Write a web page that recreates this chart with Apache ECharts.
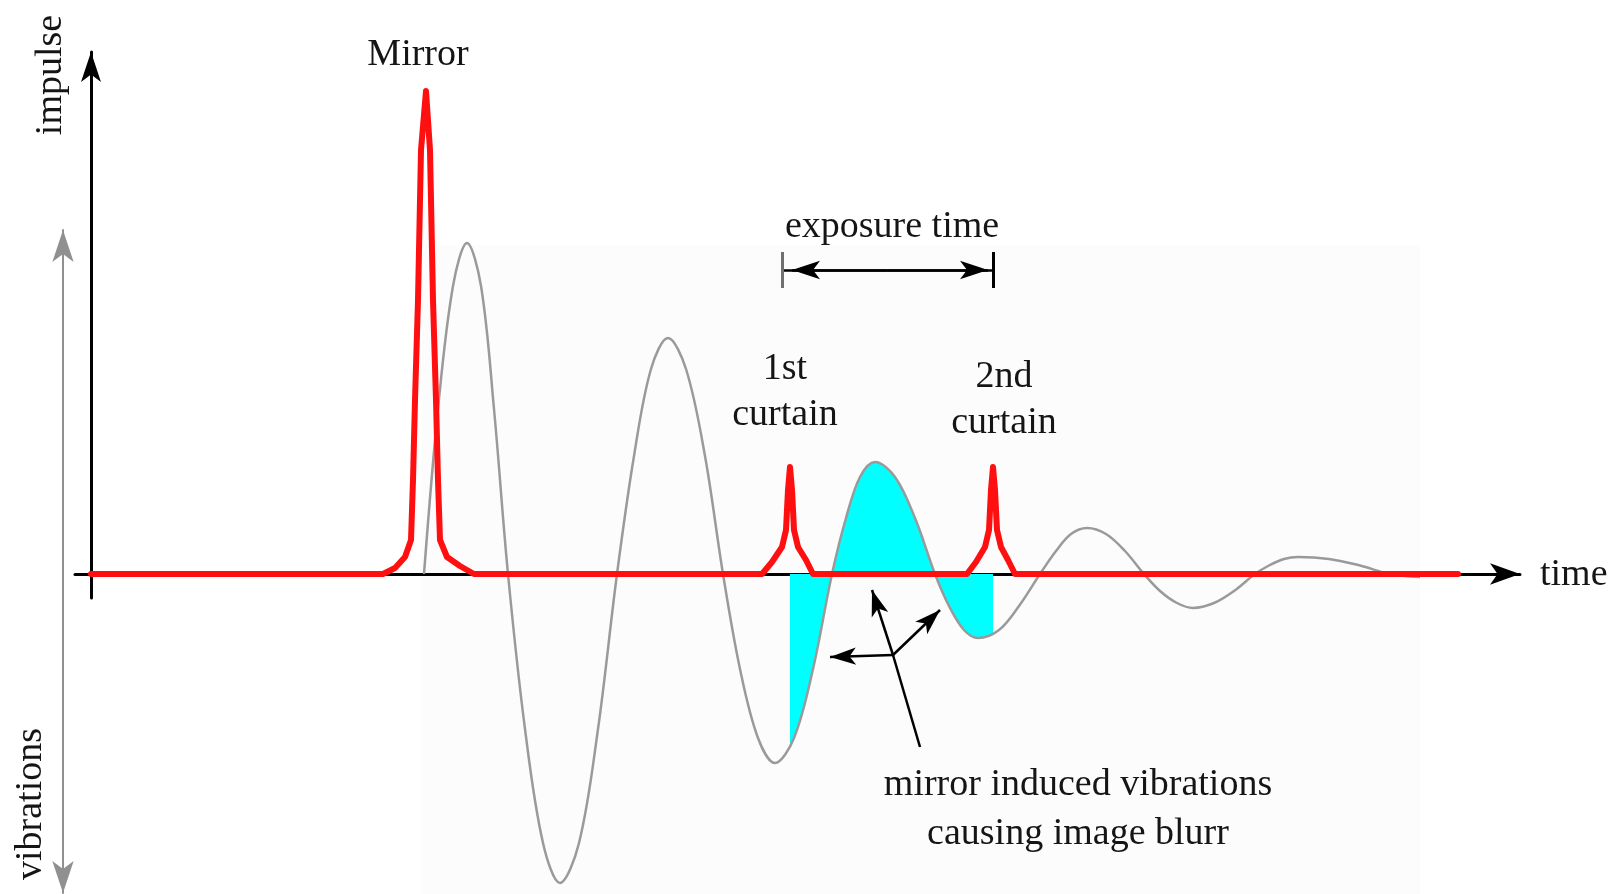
<!DOCTYPE html>
<html><head><meta charset="utf-8">
<script src="https://cdn.jsdelivr.net/npm/echarts@6/dist/echarts.min.js"></script>
<style>html,body{margin:0;padding:0;background:#fff}#c{width:1620px;height:894px}</style>
</head><body><div id="c"></div>
<script>
// ---- data (time units, amplitude units) ----
const mirrorPulse = [[0,0],[29.2,0],[30.4,0.6],[31.4,1.7],[32.0,3.4],[32.2,9.4],[32.4,17.4],[32.7,27.4],[33.0,42.4],[33.5,48.3],[33.9,42.4],[34.2,27.4],[34.5,17.4],[34.7,9.4],[34.9,3.4],[35.6,1.7],[36.9,0.8],[38.3,0]];
const firstCurtainPulse = [[67.1,0],[68.1,1.2],[69.1,2.7],[69.5,4.4],[69.7,8.4],[69.9,10.7],[70.1,8.4],[70.3,4.4],[70.7,2.7],[71.5,1.4],[72.2,0]];
const secondCurtainPulse = [[87.6,0],[88.5,1.2],[89.4,2.7],[89.8,4.4],[90.0,8.4],[90.2,10.7],[90.4,8.4],[90.6,4.4],[91.0,2.7],[91.7,1.4],[92.4,0],[136.7,0]];
const vibration = [
  [33.3,0],[34.7,16.5],[36.2,28.8],[37.6,33.1],[39.0,28.8],[40.3,16.5],[41.7,0],
  [43.4,-15.5],[45.2,-26.9],[46.9,-30.9],[48.8,-26.9],[50.7,-15.5],[52.6,0],
  [54.3,11.8],[56.0,20.5],[57.7,23.6],[59.5,20.5],[61.4,11.8],[63.2,0],
  [64.9,-9.5],[66.7,-16.4],[68.4,-18.9],[70.3,-16.4],[72.2,-9.5],[74.1,0],
  [75.5,5.6],[76.9,9.7],[78.4,11.2],[80.4,9.7],[82.4,5.6],[84.4,0],
  [85.8,-3.2],[87.3,-5.6],[88.7,-6.4],[90.8,-5.6],[92.8,-3.2],[94.9,0],
  [96.5,2.3],[98.0,4.0],[99.6,4.6],[101.5,4.0],[103.4,2.3],[105.3,0],
  [106.9,-1.7],[108.6,-2.9],[110.2,-3.4],[112.3,-2.9],[114.3,-1.7],[116.4,0],
  [117.8,0.85],[119.3,1.5],[120.7,1.7],[123.8,1.5],[126.9,0.85],[129.9,0],[132.9,-0.3]
];
const exposureWindow = [69.9, 90.2];      // 1st curtain, 2nd curtain
const exposureBars = [69.1, 90.2];
const exposureArrowTips = [70.1, 89.7];
const exposureLevel = 30.4;
const blurCenter = [80.2, -8.1];
const blurTips = [[78.1, -1.6], [84.9, -3.6], [73.9, -8.3]];
const blurTail = [82.9, -17.3];
const labels = {
  mirror: 'Mirror', exposure: 'exposure time', first: '1st\ncurtain', second: '2nd\ncurtain',
  blur: 'mirror induced vibrations\ncausing image blurr', time: 'time', impulse: 'impulse', vib: 'vibrations'
};

const impulseTrace = mirrorPulse.concat(firstCurtainPulse, secondCurtainPulse);
const FONT = '"Liberation Serif", "Times New Roman", serif';
const TXT = '#151515';

const chart = echarts.init(document.getElementById('c'), null, {renderer: 'canvas'});

function txt(text, x, y, lh) {
  return {
    type: 'text', x: x, y: y, z: 100, silent: true,
    style: {text: text, fill: TXT, fontFamily: FONT, fontSize: 38,
      align: 'center', verticalAlign: 'middle', lineHeight: lh || 46}
  };
}

const blurLines = blurTips.map(t => [
  {coord: blurCenter, symbol: 'none'},
  {coord: t, symbol: 'arrow', symbolSize: [13, 26]}
]);
blurLines.push([{coord: blurCenter, symbol: 'none'}, {coord: blurTail, symbol: 'none'}]);

const option = {
  animation: false,
  backgroundColor: '#ffffff',
  grid: [
    {left: 75, right: 100, top: 52, bottom: 296},
    {left: 63, right: 100, top: 230, bottom: 1}
  ],
  xAxis: [
    {type: 'value', gridIndex: 0, min: -1.6, max: 142.9,
     axisLine: {show: true, onZero: true, symbol: ['none', 'arrow'], symbolSize: [16, 30],
       lineStyle: {color: '#000', width: 3}},
     axisTick: {show: false}, axisLabel: {show: false}, splitLine: {show: false}},
    {type: 'value', gridIndex: 1, min: -2.8, max: 142.9,
     axisLine: {show: false}, axisTick: {show: false}, axisLabel: {show: false}, splitLine: {show: false}}
  ],
  yAxis: [
    {type: 'value', gridIndex: 0, min: -2.4, max: 52.2,
     axisLine: {show: true, onZero: true, symbol: ['none', 'arrow'], symbolSize: [15, 30],
       lineStyle: {color: '#000', width: 3}},
     axisTick: {show: false}, axisLabel: {show: false}, splitLine: {show: false}},
    {type: 'value', gridIndex: 1, min: -31.9, max: 34.4,
     axisLine: {show: true, onZero: false, symbol: ['arrow', 'arrow'], symbolSize: [16, 32],
       lineStyle: {color: '#909090', width: 2}},
     axisTick: {show: false}, axisLabel: {show: false}, splitLine: {show: false}}
  ],
  visualMap: [{
    type: 'piecewise', show: false, dimension: 0, seriesIndex: 0,
    pieces: [{gte: exposureWindow[0], lte: exposureWindow[1], color: '#00ffff'}],
    outOfRange: {color: 'rgba(0,255,255,0)'}
  }],
  series: [
    {type: 'line', name: 'blur area', xAxisIndex: 1, yAxisIndex: 1, data: vibration,
     smooth: 0.35, showSymbol: false, silent: true, z: 1,
     lineStyle: {width: 0, opacity: 0}, areaStyle: {opacity: 1}},
    {type: 'line', name: 'vibrations', xAxisIndex: 1, yAxisIndex: 1, data: vibration,
     smooth: 0.35, showSymbol: false, silent: true, z: 2,
     lineStyle: {color: '#9a9a9a', width: 2.5},
     markLine: {silent: true, animation: false, label: {show: false}, symbol: ['none', 'none'],
       lineStyle: {color: '#000', width: 2.5, type: 'solid'}, emphasis: {disabled: true},
       data: blurLines}},
    {type: 'line', name: 'impulse', xAxisIndex: 0, yAxisIndex: 0, data: impulseTrace,
     smooth: false, showSymbol: false, silent: true, z: 4,
     lineStyle: {color: '#ff1010', width: 6, join: 'round', cap: 'round'},
     markLine: {silent: true, animation: false, label: {show: false}, symbol: ['none', 'none'],
       lineStyle: {color: '#000', width: 2.5, type: 'solid'}, emphasis: {disabled: true},
       data: [
         [{coord: [exposureBars[0], exposureLevel]}, {coord: [exposureBars[1], exposureLevel]}],
         [{coord: [(exposureBars[0] + exposureBars[1]) / 2, exposureLevel], symbol: 'none'},
          {coord: [exposureArrowTips[0], exposureLevel], symbol: 'arrow', symbolSize: [14, 28]}],
         [{coord: [(exposureBars[0] + exposureBars[1]) / 2, exposureLevel], symbol: 'none'},
          {coord: [exposureArrowTips[1], exposureLevel], symbol: 'arrow', symbolSize: [14, 28]}],
         [{coord: [exposureBars[0], exposureLevel + 1.8], lineStyle: {color: '#707070', width: 3}},
          {coord: [exposureBars[0], exposureLevel - 1.8]}],
         [{coord: [exposureBars[1], exposureLevel + 1.8], lineStyle: {color: '#000', width: 3}},
          {coord: [exposureBars[1], exposureLevel - 1.8]}]
       ]}}
  ],
  graphic: [
    {type: 'rect', z: -10, shape: {x: 422, y: 245, width: 998, height: 649}, style: {fill: '#fcfcfc'}, silent: true},
    txt(labels.mirror, 418, 55),
    txt(labels.exposure, 892, 227),
    txt(labels.first, 785, 392),
    txt(labels.second, 1004, 400),
    txt(labels.blur, 1078, 810, 49),
    {type: 'text', x: 1540, y: 575, z: 100, silent: true, style: {text: labels.time, fill: TXT, fontFamily: FONT, fontSize: 38, align: 'left', verticalAlign: 'middle'}},
    {type: 'text', x: 51, y: 75, z: 100, silent: true, rotation: Math.PI / 2, style: {text: labels.impulse, fill: TXT, fontFamily: FONT, fontSize: 38, align: 'center', verticalAlign: 'middle'}},
    {type: 'text', x: 31, y: 804, z: 100, silent: true, rotation: Math.PI / 2, style: {text: labels.vib, fill: TXT, fontFamily: FONT, fontSize: 38, align: 'center', verticalAlign: 'middle'}}
  ]
};
chart.setOption(option);
</script>
</body></html>
